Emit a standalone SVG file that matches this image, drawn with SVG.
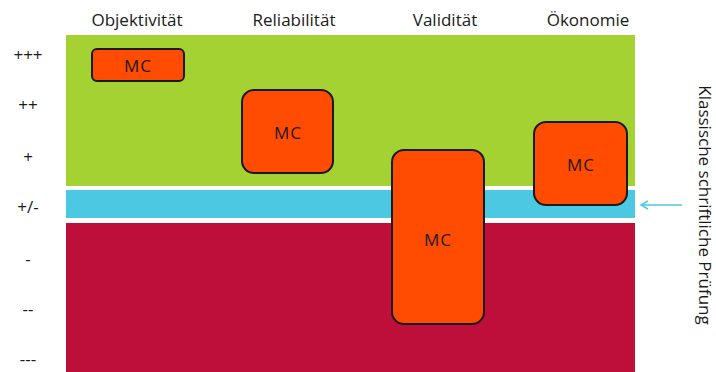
<svg xmlns="http://www.w3.org/2000/svg" width="716" height="372" viewBox="0 0 716 372">
<defs>
<style>
.lbl{font-family:"Open Sans","Noto Sans",sans-serif;font-size:17px;fill:#1a1a1a;text-anchor:middle}
.row{font-family:"Open Sans","Noto Sans",sans-serif;font-size:17px;fill:#1a1a1a;text-anchor:middle}
.side{font-family:"Open Sans","Noto Sans",sans-serif;font-size:17px;fill:#1a1a1a;text-anchor:middle}
.box{fill:#FF4C00;stroke:#1a1a1a;stroke-width:2}
.mc{font-family:"Open Sans","Noto Sans",sans-serif;font-size:17px;fill:#1a1a1a;text-anchor:middle;letter-spacing:1px}
</style>
<marker id="ah" markerWidth="10" markerHeight="10" refX="8" refY="5" orient="auto" markerUnits="userSpaceOnUse">
<path d="M1,1 L8,5 L1,9" fill="none" stroke="#4DC8E2" stroke-width="1.5"/>
</marker>
</defs>
<rect width="716" height="372" fill="#ffffff"/>
<g id="bands">
<rect x="66" y="35" width="569" height="151" fill="#A5D233"/>
<rect x="66" y="190" width="569" height="28" fill="#4DC8E2"/>
<rect x="66" y="223" width="569" height="149" fill="#BE0F3A"/>
</g>
<g id="columns">
<text class="lbl" x="137" y="26">Objektivität</text>
<text class="lbl" x="294" y="26">Reliabilität</text>
<text class="lbl" x="445" y="26">Validität</text>
<text class="lbl" x="588" y="26">Ökonomie</text>
</g>
<g id="rows">
<text class="row" x="28" y="61">+++</text>
<text class="row" x="28" y="111">++</text>
<text class="row" x="28" y="163">+</text>
<text class="row" x="28" y="213">+/-</text>
<text class="row" x="28" y="265">-</text>
<text class="row" x="28" y="315">--</text>
<text class="row" x="28" y="365">---</text>
</g>
<g id="mc-objektivitaet">
<rect class="box" x="92" y="49" width="92" height="32" rx="5"/>
<text class="mc" x="138" y="72">MC</text>
</g>
<g id="mc-reliabilitaet">
<rect class="box" x="242" y="90" width="91" height="83" rx="12"/>
<text class="mc" x="288" y="139">MC</text>
</g>
<g id="mc-validitaet">
<rect class="box" x="392" y="150" width="92" height="174" rx="12"/>
<text class="mc" x="438" y="246">MC</text>
</g>
<g id="mc-oekonomie">
<rect class="box" x="534" y="122" width="93" height="83" rx="12"/>
<text class="mc" x="581" y="171">MC</text>
</g>
<g id="connectors">
<line x1="682" y1="205" x2="641" y2="205" stroke="#4DC8E2" stroke-width="1.5" marker-end="url(#ah)"/>
</g>
<g id="side-label">
<text class="side" transform="translate(699,205) rotate(90)" x="0" y="0">Klassische schriftliche Prüfung</text>
</g>
</svg>
